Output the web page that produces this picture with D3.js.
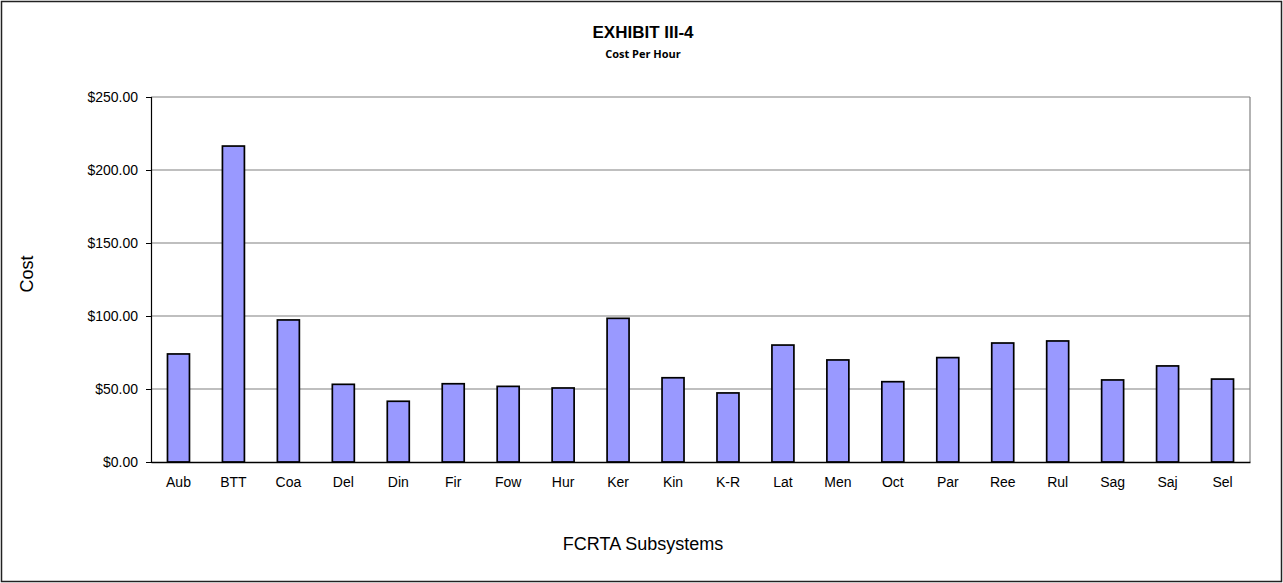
<!DOCTYPE html>
<html>
<head>
<meta charset="utf-8">
<script src="https://cdn.jsdelivr.net/npm/d3@7"></script>
<style>
  body { margin: 0; background: #fff; }
  svg { display: block; font-family: "Liberation Sans", Arial, sans-serif; }
</style>
</head>
<body>
<div id="chart"></div>
<script>
//categories and values
const subsystems = ["Aub", "BTT", "Coa", "Del", "Din", "Fir", "Fow", "Hur", "Ker", "Kin",
  "K-R", "Lat", "Men", "Oct", "Par", "Ree", "Rul", "Sag", "Saj", "Sel"];
const costPerHour = [74.0, 216.4, 97.3, 53.2, 41.6, 53.6, 51.8, 50.7, 98.4, 57.7,
  47.3, 80.1, 69.9, 55.0, 71.5, 81.5, 82.9, 56.2, 65.8, 56.8];
const yTicks = [0, 50, 100, 150, 200, 250];

//size
const width = 1283;
const height = 583;
const margin = { top: 97, right: 33, bottom: 121, left: 151 };
const innerWidth = width - margin.left - margin.right;
const innerHeight = height - margin.top - margin.bottom;

const data = subsystems.map((d, i) => ({ name: d, value: costPerHour[i] }));

const svg = d3.select("#chart")
  .append("svg")
  .attr("width", width)
  .attr("height", height);

//outer border
svg.append("rect")
  .attr("x", 1.5).attr("y", 1.5)
  .attr("width", width - 3).attr("height", height - 3)
  .attr("fill", "none")
  .attr("stroke", "#222")
  .attr("stroke-width", 1.5);

//titles
svg.append("text")
  .attr("x", 643).attr("y", 38)
  .attr("text-anchor", "middle")
  .attr("font-size", 17)
  .attr("font-weight", "bold")
  .text("EXHIBIT III-4");

svg.append("text")
  .attr("x", 643).attr("y", 58)
  .attr("text-anchor", "middle")
  .attr("font-family", "'Open Sans', sans-serif")
  .attr("font-size", 11)
  .attr("font-weight", "bold")
  .text("Cost Per Hour");

//scales
const x = d3.scaleBand()
  .domain(subsystems)
  .range([0, innerWidth])
  .paddingInner(0.6)
  .paddingOuter(0.3);

const y = d3.scaleLinear()
  .domain([0, 250])
  .range([innerHeight, 0]);

const g = svg.append("g")
  .attr("transform", `translate(${margin.left},${margin.top})`);

//gridlines
g.selectAll("line.grid")
  .data(yTicks.slice(1))
  .join("line")
  .attr("class", "grid")
  .attr("x1", 0).attr("x2", innerWidth)
  .attr("y1", (d) => y(d)).attr("y2", (d) => y(d))
  .attr("stroke", "#808080")
  .attr("stroke-width", 1.2);

//right plot border
g.append("line")
  .attr("x1", innerWidth).attr("x2", innerWidth)
  .attr("y1", 0).attr("y2", innerHeight)
  .attr("stroke", "#808080")
  .attr("stroke-width", 1.2);

//bars
g.selectAll("rect.bar")
  .data(data)
  .join("rect")
  .attr("class", "bar")
  .attr("x", (d) => x(d.name))
  .attr("y", (d) => y(d.value))
  .attr("width", x.bandwidth())
  .attr("height", (d) => innerHeight - y(d.value))
  .attr("fill", "#9999ff")
  .attr("stroke", "#000")
  .attr("stroke-width", 1.7);

//y axis
g.append("g")
  .call(d3.axisLeft(y).tickValues(yTicks).tickFormat((d) => "$" + d3.format(".2f")(d)).tickSize(5).tickPadding(8))
  .call((a) => a.select(".domain").attr("stroke", "#000").attr("stroke-width", 1.2))
  .call((a) => a.selectAll(".tick line").attr("stroke", "#000"))
  .call((a) => a.selectAll("text").attr("font-size", 14).attr("fill", "#000")
    .attr("font-family", "'Liberation Sans', Arial, sans-serif"));

//x axis
g.append("g")
  .attr("transform", `translate(0,${innerHeight})`)
  .call(d3.axisBottom(x).tickSize(0).tickPadding(15))
  .call((a) => a.select(".domain").attr("stroke", "#000").attr("stroke-width", 1.5))
  .call((a) => a.selectAll("text").attr("font-size", 14).attr("fill", "#000")
    .attr("font-family", "'Liberation Sans', Arial, sans-serif"));

//axis titles
svg.append("text")
  .attr("x", 643).attr("y", 550)
  .attr("text-anchor", "middle")
  .attr("font-size", 18)
  .text("FCRTA Subsystems");

svg.append("text")
  .attr("transform", "translate(33,274) rotate(-90)")
  .attr("text-anchor", "middle")
  .attr("font-size", 18)
  .text("Cost");
</script>
</body>
</html>
